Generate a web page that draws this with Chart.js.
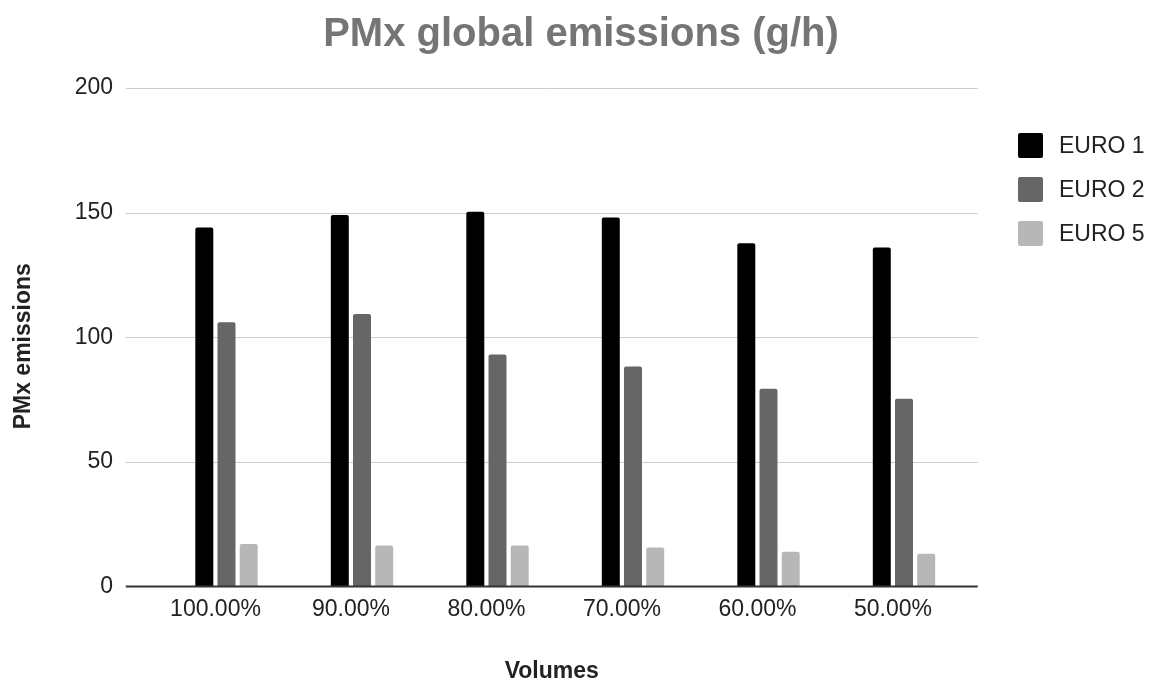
<!DOCTYPE html>
<html>
<head>
<meta charset="utf-8">
<script src="https://cdn.jsdelivr.net/npm/chart.js@4"></script>
<style>
  body { margin: 0; background: #fff; }
  #wrap { position: relative; width: 1162px; height: 684px; }
  #legend { position: absolute; left: 1018px; top: 123px; font: 23px "Liberation Sans", Arial, sans-serif; color: #222; }
  .item { display: flex; align-items: center; height: 44px; }
  .box { width: 25px; height: 25px; border-radius: 2px; margin-right: 16px; }
</style>
</head>
<body>
<div id="wrap">
  <canvas id="myChart" width="1162" height="684"></canvas>
  <div id="legend"></div>
</div>
<script>
var volumes = ["100.00%", "90.00%", "80.00%", "70.00%", "60.00%", "50.00%"];
var euro1 = [144, 149, 150.4, 148, 137.7, 136];
var euro2 = [106, 109.3, 93.1, 88.3, 79.3, 75.3];
var euro5 = [17.1, 16.4, 16.4, 15.6, 13.9, 13.1];
var seriesNames = ["EURO 1", "EURO 2", "EURO 5"];
var seriesColors = ["#000000", "#666666", "#b7b7b7"];
var yTicks = [0, 50, 100, 150, 200];

var chartTitle = "PMx global emissions (g/h)";
var xTitle = "Volumes";
var yTitle = "PMx emissions";
var fontFamily = '"Liberation Sans", Arial, sans-serif';

// grid lines run a bit wider than the bars area, like the original
var gridPlugin = {
    id: "gridLines",
    beforeDatasetsDraw: function (chart) {
        var ctx = chart.ctx, area = chart.chartArea, y = chart.scales.y;
        ctx.save();
        ctx.strokeStyle = "#cccccc";
        ctx.lineWidth = 1;
        yTicks.forEach(function (v) {
            if (v === 0) return;
            var py = Math.round(y.getPixelForValue(v)) + 0.5;
            ctx.beginPath();
            ctx.moveTo(area.left - 33, py);
            ctx.lineTo(area.right + 6, py);
            ctx.stroke();
        });
        ctx.restore();
    },
    afterDatasetsDraw: function (chart) {
        var ctx = chart.ctx, area = chart.chartArea, y = chart.scales.y;
        var py = y.getPixelForValue(0);
        ctx.save();
        ctx.strokeStyle = "#333333";
        ctx.lineWidth = 2;
        ctx.beginPath();
        ctx.moveTo(area.left - 33, py);
        ctx.lineTo(area.right + 6, py);
        ctx.stroke();

        // chart title, centred on the whole canvas
        ctx.textAlign = "center";
        ctx.textBaseline = "middle";
        ctx.fillStyle = "#757575";
        ctx.font = "bold 40px " + fontFamily;
        ctx.fillText(chartTitle, chart.width / 2, 34.7);

        // axis titles
        ctx.fillStyle = "#222222";
        ctx.font = "bold 23px " + fontFamily;
        ctx.fillText(xTitle, (area.left - 33 + area.right + 6) / 2, 672);
        ctx.translate(23.5, (area.top + area.bottom) / 2 + 9);
        ctx.rotate(-Math.PI / 2);
        ctx.fillText(yTitle, 0, 0);
        ctx.restore();
    }
};

var allData = [euro1, euro2, euro5];
var datasets = seriesNames.map(function (name, i) {
    return {
        label: name,
        data: allData[i],
        backgroundColor: seriesColors[i],
        borderRadius: 2,
        categoryPercentage: 0.4915,
        barPercentage: 0.81
    };
});

new Chart("myChart", {
    type: "bar",
    data: { labels: volumes, datasets: datasets },
    options: {
        responsive: false,
        animation: false,
        layout: { padding: { left: 0, right: 190.25, top: 88, bottom: 0 } },
        plugins: {
            legend: { display: false },
            tooltip: { enabled: false },
            title: { display: false }
        },
        scales: {
            x: {
                grid: { display: false, drawTicks: false },
                border: { display: false },
                ticks: {
                    color: "#222222",
                    font: { family: fontFamily, size: 23 },
                    padding: 9,
                    labelOffset: -11
                },
                afterFit: function (scale) { scale.height = 97.5; }
            },
            y: {
                min: 0,
                max: 200,
                grid: { display: false, drawTicks: false },
                border: { display: false },
                ticks: {
                    stepSize: 50,
                    color: "#222222",
                    font: { family: fontFamily, size: 23 },
                    padding: 45.75
                },
                afterFit: function (scale) { scale.width = 158.75; }
            }
        }
    },
    plugins: [gridPlugin]
});

// legend built from the same series arrays
var legend = document.getElementById("legend");
seriesNames.forEach(function (name, i) {
    var item = document.createElement("div");
    item.className = "item";
    var box = document.createElement("span");
    box.className = "box";
    box.style.background = seriesColors[i];
    var txt = document.createElement("span");
    txt.textContent = name;
    item.appendChild(box);
    item.appendChild(txt);
    legend.appendChild(item);
});
</script>
</body>
</html>
